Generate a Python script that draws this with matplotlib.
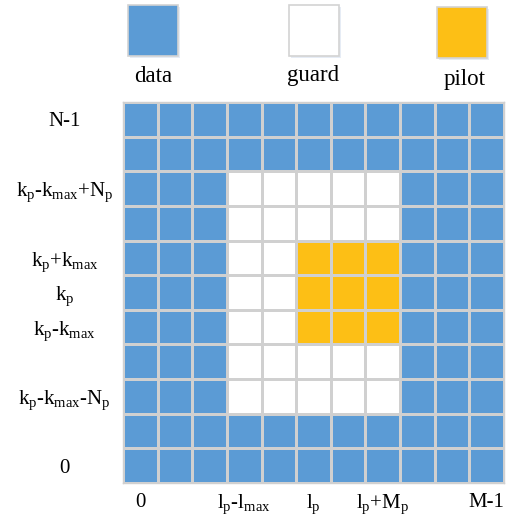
import numpy as np
import matplotlib
matplotlib.use("Agg")
import matplotlib.pyplot as plt
from matplotlib.colors import ListedColormap
from matplotlib.patches import Rectangle

plt.rcParams['font.family'] = ['Liberation Serif', 'DejaVu Serif']
plt.rcParams['mathtext.fontset'] = 'custom'
plt.rcParams['mathtext.rm'] = 'Liberation Serif'
plt.rcParams['mathtext.it'] = 'Liberation Serif'

# grid size
M = 11
N = 11
# cell regions (column / row indices, rows counted from the bottom)
guard_cols = [3, 4, 5, 6, 7]
guard_rows = [2, 3, 4, 5, 6, 7, 8]
pilot_cols = [5, 6, 7]
pilot_rows = [4, 5, 6]

legend_names = ["data", "guard", "pilot"]
colors = ["#5B9BD5", "#FFFFFF", "#FDBF15"]

x_tick_pos = [0, 3, 5, 7, 10]
x_tick_labels = ["0", r"$\mathrm{l_p}$-$\mathrm{l_{max}}$", r"$\mathrm{l_p}$",
                 r"$\mathrm{l_p}$+$\mathrm{M_p}$", "M-1"]
y_tick_pos = [0, 2, 4, 5, 6, 8, 10]
y_tick_labels = ["0", r"$\mathrm{k_p}$-$\mathrm{k_{max}}$-$\mathrm{N_p}$",
                 r"$\mathrm{k_p}$-$\mathrm{k_{max}}$", r"$\mathrm{k_p}$",
                 r"$\mathrm{k_p}$+$\mathrm{k_{max}}$",
                 r"$\mathrm{k_p}$-$\mathrm{k_{max}}$+$\mathrm{N_p}$", "N-1"]

grid = np.zeros((N, M), dtype=int)
for r in guard_rows:
    for c in guard_cols:
        grid[r, c] = 1
for r in pilot_rows:
    for c in pilot_cols:
        grid[r, c] = 2

W, H = 518, 517
fig = plt.figure(figsize=(W / 100, H / 100), dpi=100)
ax = fig.add_axes([123 / W, 1 - 483 / H, 381 / W, 381 / H])
ax.pcolormesh(np.arange(M + 1) - 0.5, np.arange(N + 1) - 0.5, grid,
              cmap=ListedColormap(colors), vmin=0, vmax=2,
              edgecolors="#D0D0D0", linewidth=1.0)
ax.set_xlim(-0.5, M - 0.5)
ax.set_ylim(-0.5, N - 0.5)
for s in ax.spines.values():
    s.set_color("#D0D0D0")
    s.set_linewidth(1.0)
ax.set_xticks(x_tick_pos)
ax.set_xticklabels(x_tick_labels, fontsize=15)
ax.set_yticks(y_tick_pos)
ax.set_yticklabels(y_tick_labels, fontsize=15, ha="center")
ax.tick_params(length=0)
ax.tick_params(axis="x", pad=7)
ax.tick_params(axis="y", pad=42)

# legend squares
legend_boxes = [(128, 5), (289, 5), (437, 7)]
legend_text = [(153, 77), (313, 76), (465, 80)]
for (x0, y0), col, name, (tx, ty) in zip(legend_boxes, colors, legend_names, legend_text):
    fig.patches.append(Rectangle((x0 / W + 0.003, 1 - (y0 + 51) / H - 0.004), 50 / W, 51 / H,
                                 transform=fig.transFigure, facecolor="#E6ECF5",
                                 edgecolor="none", zorder=1))
    fig.patches.append(Rectangle((x0 / W, 1 - (y0 + 51) / H), 50 / W, 51 / H,
                                 transform=fig.transFigure, facecolor=col,
                                 edgecolor="#D3D3D3", linewidth=1.2, zorder=2))
    fig.text(tx / W, 1 - ty / H, name, ha="center", va="center", fontsize=16.5)

fig.savefig("out.png", dpi=100)
